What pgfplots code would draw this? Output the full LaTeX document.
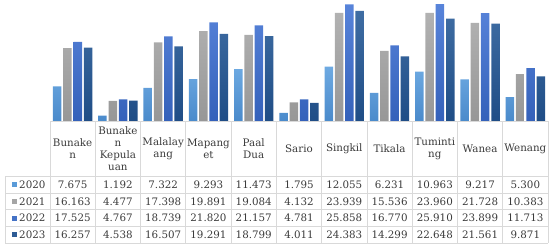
\documentclass[border=0pt]{standalone}
\usepackage{pgfplots}
\pgfplotsset{compat=1.18}
\usepackage{pgfplotstable}
\usepackage{fontspec}
\setmainfont{DejaVu Serif}
\definecolor{gridc}{HTML}{D9D9D9}
\definecolor{txt}{HTML}{3A3A3A}
\definecolor{c20t}{HTML}{6EAAE2}
\definecolor{c20b}{HTML}{4A8ACB}
\definecolor{c21t}{HTML}{B2B2B2}
\definecolor{c21b}{HTML}{979797}
\definecolor{c22t}{HTML}{5884DA}
\definecolor{c22b}{HTML}{3461BA}
\definecolor{c23t}{HTML}{3F6DA3}
\definecolor{c23b}{HTML}{1F4D86}
\definecolor{c20}{HTML}{5A9BD8}
\definecolor{c21}{HTML}{A5A5A5}
\definecolor{c22}{HTML}{4472C6}
\definecolor{c23}{HTML}{2E5C95}
\pgfplotstableread{
x a b c d
0 7.675 16.163 17.525 16.257
1 1.192 4.477 4.767 4.538
2 7.322 17.398 18.739 16.507
3 9.293 19.891 21.820 19.291
4 11.473 19.084 21.157 18.799
5 1.795 4.132 4.781 4.011
6 12.055 23.939 25.858 24.383
7 6.231 15.536 16.770 14.299
8 10.963 23.960 25.910 22.648
9 9.217 21.728 23.899 21.561
10 5.300 10.383 11.713 9.871
}\data
\begin{document}
\begin{tikzpicture}
\useasboundingbox (0pt,0pt) rectangle (550pt,247pt);
\begin{axis}[at={(50pt,126pt)}, anchor=south west, scale only axis,
  width=498pt, height=121pt, xmin=-0.5, xmax=10.5, ymin=0, ymax=26.8,
  axis lines=none, ticks=none, ybar=1.8pt, bar width=8.5pt, clip=false]
\addplot[draw=none, top color=c20t, bottom color=c20b] table[x=x,y=a]{\data};
\addplot[draw=none, top color=c21t, bottom color=c21b] table[x=x,y=b]{\data};
\addplot[draw=none, top color=c22t, bottom color=c22b] table[x=x,y=c]{\data};
\addplot[draw=none, top color=c23t, bottom color=c23b] table[x=x,y=d]{\data};
\end{axis}
\begin{scope}[x=1pt,y=1pt]
% table grid
\draw[gridc, line width=0.7pt] (50,126) -- (548,126);
\foreach \yy in {70.5,53.9,37.25,20.6,4} \draw[gridc, line width=0.7pt] (5,\yy) -- (548,\yy);
\foreach \k in {0,...,11} \draw[gridc, line width=0.7pt] ({50+45.2727*\k},126) -- ({50+45.2727*\k},4);
\draw[gridc, line width=0.7pt] (5,70.5) -- (5,4);
% header
\foreach \lab [count=\i from 0] in {{Bunake\\n},{Bunake\\n\\Kepula\\uan},{Malalay\\ang},{Mapang\\et},{Paal\\Dua},{Sario},{Singkil},{Tikala},{Tuminti\\ng},{Wanea},{Wenang}}
  \node[align=center, inner sep=0pt, text=txt, font=\fontsize{10.3}{11.8}\selectfont] at ({50+45.2727*(\i+0.5)},98.5) {\lab};
% rows
\foreach \yr/\col/\yy/\vals in {
  2020/c20/62.2/{7.675,1.192,7.322,9.293,11.473,1.795,12.055,6.231,10.963,9.217,5.300},
  2021/c21/45.6/{16.163,4.477,17.398,19.891,19.084,4.132,23.939,15.536,23.960,21.728,10.383},
  2022/c22/28.9/{17.525,4.767,18.739,21.820,21.157,4.781,25.858,16.770,25.910,23.899,11.713},
  2023/c23/12.3/{16.257,4.538,16.507,19.291,18.799,4.011,24.383,14.299,22.648,21.561,9.871}}{
  \fill[\col] (11.7,\yy-2.5) rectangle (16.7,\yy+2.5);
  \node[anchor=west, inner sep=0pt, text=txt, font=\fontsize{10.3}{11.8}\selectfont] at (19,\yy) {\yr};
  \foreach \v [count=\i from 0] in \vals
    \node[inner sep=0pt, text=txt, font=\fontsize{10.3}{11.8}\selectfont] at ({50+45.2727*(\i+0.5)},\yy) {\v};
}
\end{scope}
\end{tikzpicture}
\end{document}
